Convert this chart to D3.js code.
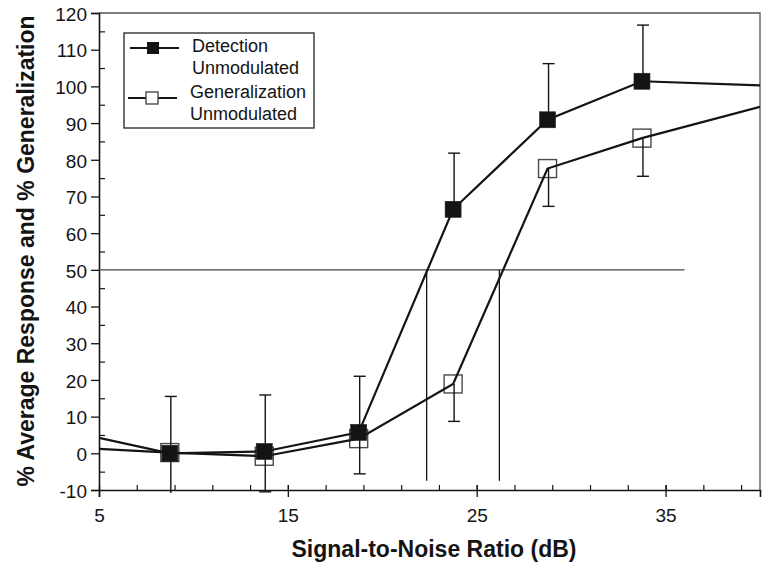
<!DOCTYPE html>
<html>
<head>
<meta charset="utf-8">
<script src="https://cdn.jsdelivr.net/npm/d3@7"></script>
<style>
  html, body { margin: 0; padding: 0; background: #fff; }
  svg { display: block; font-family: "Liberation Sans", Arial, Helvetica, sans-serif; }
</style>
</head>
<body>
<svg id="chart" width="762" height="564"></svg>
<script>
// ---- data ----
const snr = [8.75, 13.75, 18.75, 23.75, 28.75, 33.75];
const detection = [0, 0.5, 5.7, 66.5, 90.9, 101.4];
const detectionUpper = [15.5, 15.9, 21, 81.8, 106.2, 116.7];
const generalization = [0.2, -0.8, 4.0, 18.9, 77.6, 85.9];
const generalizationLower = [-15, -10.5, -5.6, 8.7, 67.3, 75.5];
const edgeX = [5, 40];
const detectionEdge = [4.2, 100.3];
const generalizationEdge = [1.2, 94.4];
const thresholdLevel = 50;
const thresholdSpan = [5, 36];
const thresholdX = [22.35, 26.2];
const thresholdFloor = -7.5;
const xTickMajor = [5, 15, 25, 35];
const yTickMajor = [-10, 0, 10, 20, 30, 40, 50, 60, 70, 80, 90, 100, 110, 120];
const legendLabels = [["Detection", "Unmodulated"], ["Generalization", "Unmodulated"]];
const xTitle = "Signal-to-Noise Ratio (dB)";
const yTitle = "% Average Response and % Generalization";

// ---- layout ----
const L = 99, R = 760, T = 13, B = 490;
const svg = d3.select("#chart");
const x = d3.scaleLinear().domain([5, 40]).range([L, R]);
const y = d3.scaleLinear().domain([-10, 120]).range([B, T]);
const ink = "#141414";
const plain = d => String(d);

svg.append("defs").append("clipPath").attr("id", "clip")
  .append("rect").attr("x", L).attr("y", T).attr("width", R - L).attr("height", B - T + 3);

// frame (top & right, gray)
svg.append("path")
  .attr("d", `M${L},${T}H${R}V${B}`)
  .attr("fill", "none").attr("stroke", "#555").attr("stroke-width", 1.3);

// y axis
const yMinor = d3.range(-5, 120, 10);
const yAxis = d3.axisLeft(y).tickValues(yTickMajor).tickSize(8).tickPadding(4).tickFormat(plain);
const gy = svg.append("g").attr("transform", `translate(${L},0)`).call(yAxis);
gy.select(".domain").attr("stroke", ink).attr("stroke-width", 1.6);
gy.selectAll(".tick line").attr("stroke", ink).attr("stroke-width", 1.3);
gy.selectAll(".tick text").attr("font-size", 19).attr("fill", ink).attr("dy", "0.38em")
  .attr("font-family", "Liberation Sans, Arial, sans-serif");
const gyMinor = svg.append("g").attr("transform", `translate(${L},0)`)
  .call(d3.axisRight(y).tickValues(yMinor).tickSize(6).tickFormat(""));
gyMinor.select(".domain").remove();
gyMinor.selectAll(".tick line").attr("stroke", ink).attr("stroke-width", 1.2);

// x axis
const xMinor = d3.range(7, 40, 2);
const xAxis = d3.axisBottom(x).tickValues(xTickMajor).tickSize(7).tickPadding(12).tickFormat(plain);
const gx = svg.append("g").attr("transform", `translate(0,${B})`).call(xAxis);
gx.select(".domain").attr("stroke", ink).attr("stroke-width", 1.6);
gx.selectAll(".tick line").attr("stroke", ink).attr("stroke-width", 1.3).attr("y1", -5);
gx.selectAll(".tick text").attr("font-size", 19).attr("fill", ink)
  .attr("font-family", "Liberation Sans, Arial, sans-serif");
const gxMinor = svg.append("g").attr("transform", `translate(0,${B})`)
  .call(d3.axisTop(x).tickValues(xMinor).tickSize(5).tickFormat(""));
gxMinor.select(".domain").remove();
gxMinor.selectAll(".tick line").attr("stroke", ink).attr("stroke-width", 1.2);

// titles
svg.append("text").attr("x", 434).attr("y", 557).attr("text-anchor", "middle")
  .attr("font-size", 23).attr("font-weight", "bold").attr("fill", ink).text(xTitle);
svg.append("text").attr("transform", `translate(34,251) rotate(-90)`).attr("text-anchor", "middle")
  .attr("font-size", 23).attr("font-weight", "bold").attr("fill", ink).text(yTitle);

// threshold lines
svg.append("line")
  .attr("x1", x(thresholdSpan[0])).attr("x2", x(thresholdSpan[1]))
  .attr("y1", y(thresholdLevel)).attr("y2", y(thresholdLevel))
  .attr("stroke", "#444").attr("stroke-width", 1.3);
svg.selectAll(".vthr").data(thresholdX).enter().append("line")
  .attr("x1", d => x(d)).attr("x2", d => x(d))
  .attr("y1", y(thresholdLevel)).attr("y2", y(thresholdFloor))
  .attr("stroke", ink).attr("stroke-width", 1.3);

const plot = svg.append("g").attr("clip-path", "url(#clip)");

const detPts = snr.map((s, i) => ({ x: s, y: detection[i], up: detectionUpper[i] }));
const genPts = snr.map((s, i) => ({ x: s, y: generalization[i], lo: generalizationLower[i] }));

// open squares (behind)
const so = 18;
plot.selectAll(".gsq").data(genPts).enter().append("rect")
  .attr("x", d => x(d.x) - so / 2).attr("y", d => y(d.y) - so / 2)
  .attr("width", so).attr("height", so)
  .attr("fill", "#fff").attr("stroke", "#4a4a4a").attr("stroke-width", 1.4);

// lines
const line = d3.line().x(d => x(d[0])).y(d => y(d[1]));
const detLine = [[edgeX[0], detectionEdge[0]], ...snr.map((s, i) => [s, detection[i]]), [edgeX[1], detectionEdge[1]]];
const genLine = [[edgeX[0], generalizationEdge[0]], ...snr.map((s, i) => [s, generalization[i]]), [edgeX[1], generalizationEdge[1]]];
plot.append("path").attr("d", line(genLine)).attr("fill", "none").attr("stroke", ink).attr("stroke-width", 2.2);
plot.append("path").attr("d", line(detLine)).attr("fill", "none").attr("stroke", ink).attr("stroke-width", 2.2);

// error bars
const cap = 6;
function errBar(g, px, y0, y1) {
  g.append("line").attr("x1", px).attr("x2", px).attr("y1", y(y0)).attr("y2", y(y1))
    .attr("stroke", ink).attr("stroke-width", 1.4);
  g.append("line").attr("x1", px - cap).attr("x2", px + cap).attr("y1", y(y1)).attr("y2", y(y1))
    .attr("stroke", ink).attr("stroke-width", 1.4);
}
detPts.forEach(d => errBar(plot, x(d.x) + 1, d.y, d.up));
genPts.forEach(d => errBar(plot, x(d.x) + 1, d.y, d.lo));

// filled squares
const sf = 16;
plot.selectAll(".dsq").data(detPts).enter().append("rect")
  .attr("x", d => x(d.x) - sf / 2).attr("y", d => y(d.y) - sf / 2)
  .attr("width", sf).attr("height", sf)
  .attr("fill", ink).attr("stroke", "#222").attr("stroke-width", 0.6);

// legend
const lg = svg.append("g");
lg.append("rect").attr("x", 124).attr("y", 33).attr("width", 190).attr("height", 95)
  .attr("fill", "#fff").attr("stroke", "#333").attr("stroke-width", 1.4);
lg.append("line").attr("x1", 130).attr("x2", 179).attr("y1", 48).attr("y2", 48).attr("stroke", ink).attr("stroke-width", 2.2);
lg.append("rect").attr("x", 147).attr("y", 42).attr("width", 12).attr("height", 12).attr("fill", ink);
lg.append("line").attr("x1", 128).attr("x2", 177).attr("y1", 98).attr("y2", 98).attr("stroke", ink).attr("stroke-width", 2.2);
lg.append("rect").attr("x", 146).attr("y", 92).attr("width", 12).attr("height", 12).attr("fill", "#fff").attr("stroke", "#4a4a4a").attr("stroke-width", 1.4);
const lgText = [[192, 52], [192, 74], [190, 98], [190, 120]];
legendLabels.flat().forEach((t, i) => {
  lg.append("text").attr("x", lgText[i][0]).attr("y", lgText[i][1])
    .attr("font-size", 18).attr("fill", ink).text(t);
});
</script>
</body>
</html>
